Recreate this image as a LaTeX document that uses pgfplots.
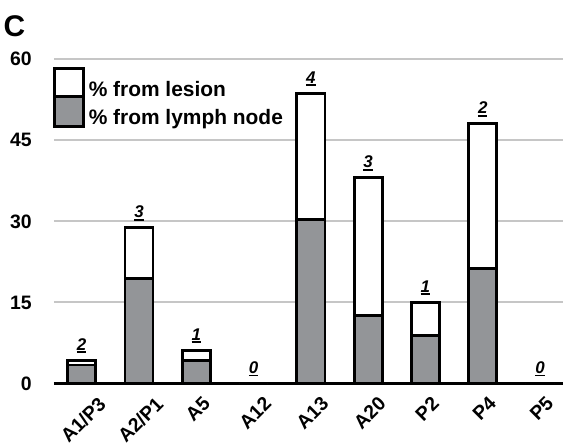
\documentclass[border=0pt]{standalone}
\usepackage{fontspec}
\setmainfont{Liberation Sans}
\usepackage{graphicx}
\usepackage{pgfplots}
\pgfplotsset{compat=1.18}
\definecolor{barg}{HTML}{939598}
\definecolor{gridg}{HTML}{C6C6C6}
\newcommand{\ul}[1]{\setbox0\hbox{#1}\leavevmode\rlap{\rule[-2.6bp]{\wd0}{1.8bp}}\box0}
\begin{document}
\begin{tikzpicture}
\useasboundingbox (-54bp,-62.5bp) rectangle (509bp,383.5bp);
\begin{axis}[
  at={(0,0)}, anchor=south west,
  scale only axis, width=509bp, height=324.2bp,
  ybar, bar width=0.49, bar shift=0pt,
  xmin=-0.4835, xmax=8.401, ymin=0, ymax=60,
  ytick={0,15,30,45,60},
  xtick={0,...,8},
  xticklabels={\rotatebox{45}{A1/P3},\rotatebox{45}{A2/P1},\rotatebox{45}{A5},\rotatebox{45}{A12},\rotatebox{45}{A13},\rotatebox{45}{A20},\rotatebox{45}{P2},\rotatebox{45}{P4},\rotatebox{45}{P5}},
  axis lines*=left,
  x axis line style={black, line width=2.8bp},
  y axis line style={draw=none},
  major tick length=0pt,
  ymajorgrids, grid style={gridg, line width=2bp},
  tick label style={font=\fontsize{19.5}{23}\selectfont\bfseries},
  /pgf/number format/assume math mode=true,
  yticklabel style={xshift=-18.7bp},
  xticklabel style={anchor=north, inner sep=0pt, xshift=1.5bp, yshift=-12bp},
  legend style={at={(0,1)}, anchor=north west, xshift=-0.7bp, yshift=-7.4bp,
    draw=none, fill=none, inner sep=0pt, row sep=-4.6bp, column sep=3bp,
    nodes={inner sep=1bp},
    font=\fontsize{21}{24}\selectfont\bfseries, cells={anchor=west}},
  legend image code/.code={\draw[#1,line width=2.8bp] (0bp,-8.7bp) rectangle (28.5bp,21.3bp);},
]
\addplot[fill=white, draw=black, line width=2.8bp,
  point meta=explicit symbolic,
  nodes near coords={\ul{\pgfplotspointmeta}},
  nodes near coords style={font=\fontsize{17}{19}\selectfont\bfseries\itshape, anchor=base, inner sep=0pt, yshift=9.8bp, black}]
  coordinates {(0,4.29) [2] (1,28.82) [3] (2,6.14) [1] (3,0) [0] (4,53.67) [4] (5,38.07) [3] (6,15.05) [1] (7,48.07) [2] (8,0) [0]};
\addlegendentry{\% from lesion}
\addplot[fill=barg, draw=black, line width=2.8bp]
  coordinates {(0,3.42) (1,19.47) (2,4.22) (3,0) (4,30.41) (5,12.64) (6,8.83) (7,21.23) (8,0)};
\addlegendentry{\% from lymph node}
\end{axis}
\node[anchor=base west, inner sep=0pt, font=\fontsize{30}{36}\selectfont\bfseries] at (-50.5bp,346.8bp) {C};
\end{tikzpicture}
\end{document}
